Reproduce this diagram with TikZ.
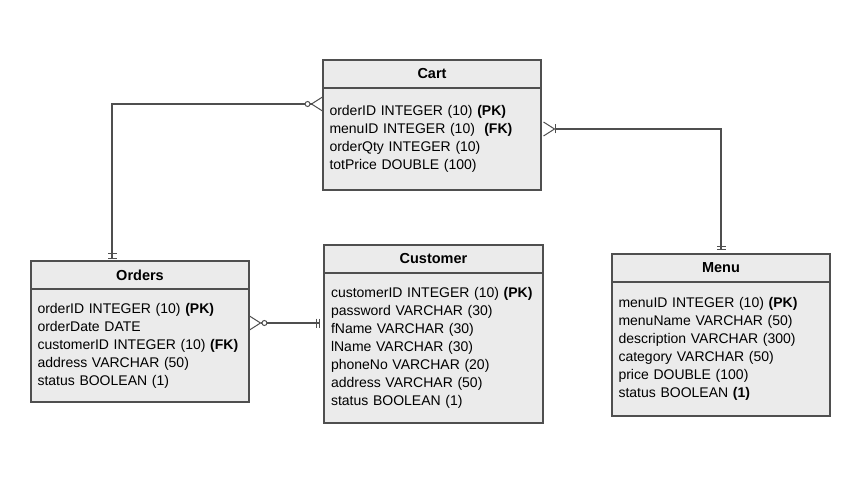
\documentclass[tikz,border=0pt]{standalone}
\usepackage{fontspec}
\setmainfont{Liberation Sans}
\usepackage{xcolor}
\usetikzlibrary{positioning,arrows.meta}
\definecolor{entfill}{HTML}{EBEBEB}
\definecolor{entline}{HTML}{4F4F4F}

\begin{document}
\begin{tikzpicture}[
  x=1pt, y=1pt,
  node distance=0pt,
  hdr/.style={draw=entline, fill=entfill, line width=1.4pt, outer sep=0pt, minimum width=218pt, minimum height=28pt, inner sep=0pt, font=\fontsize{14.5}{16}\selectfont\bfseries},
  body/.style={draw=entline, fill=entfill, line width=1.4pt, outer sep=0pt, minimum width=218pt, text width=205pt, align=left, inner xsep=6.5pt, inner ysep=0pt, font=\fontsize{14}{18}\selectfont},
  conn/.style={draw=entline, line width=1.1pt},
  crow/.tip={Straight Barb[reversed, length=11pt, width=14pt, line width=1pt]},
  zero/.tip={Circle[open, length=6pt, width=6pt, line width=1pt, fill=white]},
  mbar/.tip={Bar[width=9pt, line width=1pt]}
]
\useasboundingbox (0,0) rectangle (861,485);

% entities
\node[hdr] (cart) at (432,411) {Cart};
\node[body, below=of cart, minimum height=102pt] (cartbody) {orderID INTEGER (10) \textbf{(PK)}\\menuID INTEGER (10)~ \textbf{(FK)}\\orderQty INTEGER (10)\\totPrice DOUBLE (100)};

\node[hdr] (orders) at (140,210) {Orders};
\node[body, below=of orders, minimum height=113pt] (ordersbody) {orderID INTEGER (10) \textbf{(PK)}\\orderDate DATE\\customerID INTEGER (10) \textbf{(FK)}\\address VARCHAR (50)\\status BOOLEAN (1)};

\node[hdr, minimum width=219pt] (customer) at (433.5,226) {Customer};
\node[body, below=of customer, minimum width=219pt, minimum height=150pt] (customerbody) {customerID INTEGER (10) \textbf{(PK)}\\password VARCHAR (30)\\fName VARCHAR (30)\\lName VARCHAR (30)\\phoneNo VARCHAR (20)\\address VARCHAR (50)\\status BOOLEAN (1)};

\node[hdr] (menu) at (721,217) {Menu};
\node[body, below=of menu, minimum height=134pt] (menubody) {menuID INTEGER (10) \textbf{(PK)}\\menuName VARCHAR (50)\\description VARCHAR (300)\\category VARCHAR (50)\\price DOUBLE (100)\\status BOOLEAN \textbf{(1)}};

% relationships
\draw[conn, {mbar[sep=2pt]mbar[sep=4pt]}-{zero[]crow[]}] ([xshift=-28pt]orders.north) |- ([yshift=-16pt]cartbody.north west);
\draw[conn, {crow[sep=2pt]mbar[]}-{mbar[sep=2pt]mbar[sep=4pt]}] ([yshift=-41pt]cartbody.north east) -| (menu.north);
\draw[conn, {crow[]zero[]}-{mbar[sep=2pt]mbar[sep=4pt]}] ([yshift=-34pt]ordersbody.north east) -- ([yshift=-50pt]customerbody.north west);
\end{tikzpicture}
\end{document}
